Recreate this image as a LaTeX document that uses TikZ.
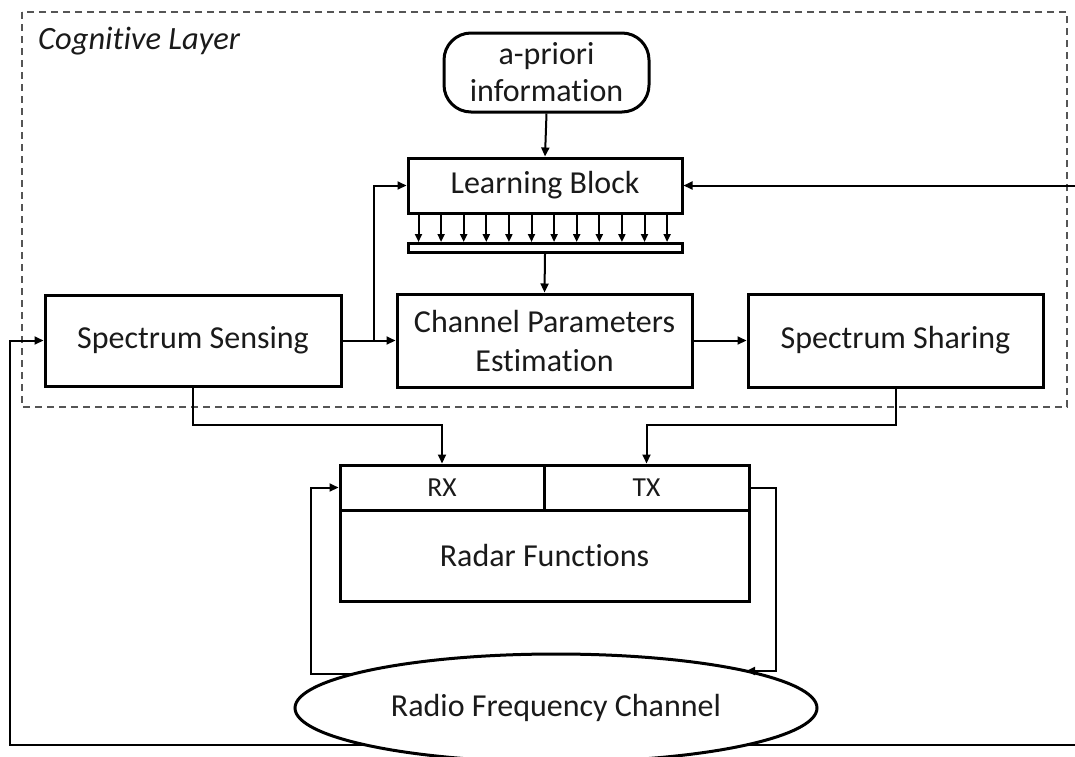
\documentclass[tikz,border=0pt]{standalone}
\usepackage{fontspec}
\setmainfont{Carlito}[RawFeature=-liga]
\usetikzlibrary{arrows.meta,shapes.geometric,calc}
\definecolor{txt}{HTML}{1A1A1A}
\definecolor{dashgray}{HTML}{555555}

\begin{document}
\begin{tikzpicture}[x=1pt,y=-1pt,
  box/.style={draw=black, line width=3pt, inner sep=0pt, align=center,
    font=\fontsize{32}{37}\selectfont, text=txt, fill=white},
  small/.style={font=\fontsize{27.5}{32}\selectfont},
  conn/.style={line width=2pt, draw=black},
  arr/.style={conn, -{Triangle[length=9pt,width=8pt]}},
  tick/.style={conn, -{Triangle[length=8pt,width=7pt]}},
]
% canvas
\fill[white] (0,0) rectangle (1075,756);
\useasboundingbox (0,0) rectangle (1075,756);

% cognitive layer frame
\draw[line width=2.5pt, draw=dashgray, dash pattern=on 7pt off 5pt] (22,12) rectangle (1067,407);
\node[anchor=base west, inner sep=0pt, text=txt,
      font=\fontsize{32.5}{38}\selectfont\itshape] (cog) at (38,49) {Cognitive Layer};

% blocks
\node[box, rounded corners=27pt, minimum width=205pt, minimum height=79pt] (apri) at (546.5,72.5) {a-priori\\information};
\node[box, minimum width=274pt, minimum height=55pt] (learn) at (545,185.5) {Learning Block};
\node[draw=black, line width=3pt, fill=white, inner sep=0pt, minimum width=274pt, minimum height=9pt] (bar) at (545,248) {};
\node[box, minimum width=296pt, minimum height=91pt] (sense) at (193,340.5) {Spectrum Sensing};
\node[box, minimum width=295pt, minimum height=93pt] (chan) at (544.5,340.5) {Channel Parameters\\[2pt]Estimation};
\node[box, minimum width=295pt, minimum height=93pt] (share) at (895.5,340.5) {Spectrum Sharing};
\node[box, minimum width=409pt, minimum height=91pt] (radar) at (544.5,555.5) {Radar Functions};
\node[box, small, minimum width=204pt, minimum height=45pt] (rx) at (442,487.5) {RX};
\node[box, small, minimum width=205pt, minimum height=45pt] (tx) at (646.5,487.5) {TX};

% routing points
\coordinate (fbin) at (1075,185.5);
\coordinate (fbout) at (1075,745);
\coordinate (fbcorner) at (10,745);
\coordinate (split) at (374,340.5);
\coordinate (sdown) at (193,425);
\coordinate (hdown) at (895.5,425);
\coordinate (lturn) at (311,674);
\coordinate (lfoot) at (353,674);
\coordinate (rturn) at (776,671);
\coordinate (rfoot) at (746,671);

% outer feedback loop (passes behind the channel ellipse)
\draw[arr] (fbout) -- (fbcorner) |- (sense.west);

% radio frequency channel
\node[box, ellipse, minimum width=522pt, minimum height=108pt] (rfc) at (556,708) {Radio Frequency Channel};

% connectors
\draw[arr] (apri.south) -- (learn.north);
\foreach \i in {0,...,11}{
  \coordinate (t\i) at ($(learn.south west)+({12+22.6*\i},0)$);
  \draw[tick] (t\i) -- (t\i |- bar.north);
}
\draw[arr] (bar.south) -- (chan.north);
\draw[arr] (sense.east) -- (chan.west);
\draw[arr] (split) |- (learn.west);
\draw[arr] (fbin) -- (learn.east);
\draw[arr] (chan.east) -- (share.west);
\draw[arr] (sense.south) -- (sdown) -| (rx.north);
\draw[arr] (share.south) -- (hdown) -| (tx.north);
\draw[arr] (lfoot) -- (lturn) |- (rx.west);
\draw[arr] (tx.east) -| (rturn) -- (rfoot);
\end{tikzpicture}
\end{document}
